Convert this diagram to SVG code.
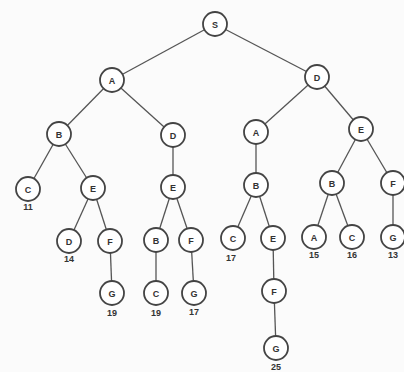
<svg xmlns="http://www.w3.org/2000/svg" width="404" height="372" viewBox="0 0 404 372">
<style>
.n circle{fill:#fff;stroke:#444;stroke-width:1.8}
.n text{font-family:"Liberation Sans",Arial,sans-serif;font-size:9px;font-weight:bold;fill:#333;text-anchor:middle}
.c line{stroke:#555;stroke-width:1.3}
.v{font-family:"Liberation Sans",Arial,sans-serif;font-size:9px;font-weight:bold;fill:#333;text-anchor:middle}
</style>
<rect width="404" height="372" fill="#fbfbfb"/>
<g id="connectors" class="c">
<line x1="215" y1="24" x2="112" y2="80"/>
<line x1="215" y1="24" x2="317" y2="77"/>
<line x1="112" y1="80" x2="59" y2="134"/>
<line x1="112" y1="80" x2="173" y2="135"/>
<line x1="317" y1="77" x2="256" y2="132"/>
<line x1="317" y1="77" x2="361" y2="129"/>
<line x1="59" y1="134" x2="28" y2="189"/>
<line x1="59" y1="134" x2="93" y2="188"/>
<line x1="173" y1="135" x2="173" y2="187"/>
<line x1="256" y1="132" x2="256" y2="185"/>
<line x1="361" y1="129" x2="332" y2="183"/>
<line x1="361" y1="129" x2="393" y2="183"/>
<line x1="93" y1="188" x2="69" y2="241"/>
<line x1="93" y1="188" x2="110" y2="241"/>
<line x1="173" y1="187" x2="156" y2="240"/>
<line x1="173" y1="187" x2="191" y2="240"/>
<line x1="256" y1="185" x2="233" y2="238"/>
<line x1="256" y1="185" x2="273" y2="238"/>
<line x1="332" y1="183" x2="314" y2="237"/>
<line x1="332" y1="183" x2="352" y2="237"/>
<line x1="393" y1="183" x2="393" y2="237"/>
<line x1="110" y1="241" x2="112" y2="293"/>
<line x1="156" y1="240" x2="156" y2="293"/>
<line x1="191" y1="240" x2="194" y2="293"/>
<line x1="273" y1="238" x2="274" y2="291"/>
<line x1="274" y1="291" x2="276" y2="348"/>
</g>
<g id="n-S" class="n"><circle cx="215" cy="24" r="12"/><text x="215" y="27.5">S</text></g>
<g id="n-A1" class="n"><circle cx="112" cy="80" r="12"/><text x="112" y="83.5">A</text></g>
<g id="n-D1" class="n"><circle cx="317" cy="77" r="12"/><text x="317" y="80.5">D</text></g>
<g id="n-B1" class="n"><circle cx="59" cy="134" r="12"/><text x="59" y="137.5">B</text></g>
<g id="n-D2" class="n"><circle cx="173" cy="135" r="12"/><text x="173" y="138.5">D</text></g>
<g id="n-A2" class="n"><circle cx="256" cy="132" r="12"/><text x="256" y="135.5">A</text></g>
<g id="n-E1" class="n"><circle cx="361" cy="129" r="12"/><text x="361" y="132.5">E</text></g>
<g id="n-C1" class="n"><circle cx="28" cy="189" r="12"/><text x="28" y="192.5">C</text></g>
<g id="n-E2" class="n"><circle cx="93" cy="188" r="12"/><text x="93" y="191.5">E</text></g>
<g id="n-E3" class="n"><circle cx="173" cy="187" r="12"/><text x="173" y="190.5">E</text></g>
<g id="n-B2" class="n"><circle cx="256" cy="185" r="12"/><text x="256" y="188.5">B</text></g>
<g id="n-B3" class="n"><circle cx="332" cy="183" r="12"/><text x="332" y="186.5">B</text></g>
<g id="n-F1" class="n"><circle cx="393" cy="183" r="12"/><text x="393" y="186.5">F</text></g>
<g id="n-D3" class="n"><circle cx="69" cy="241" r="12"/><text x="69" y="244.5">D</text></g>
<g id="n-F2" class="n"><circle cx="110" cy="241" r="12"/><text x="110" y="244.5">F</text></g>
<g id="n-B4" class="n"><circle cx="156" cy="240" r="12"/><text x="156" y="243.5">B</text></g>
<g id="n-F3" class="n"><circle cx="191" cy="240" r="12"/><text x="191" y="243.5">F</text></g>
<g id="n-C2" class="n"><circle cx="233" cy="238" r="12"/><text x="233" y="241.5">C</text></g>
<g id="n-E4" class="n"><circle cx="273" cy="238" r="12"/><text x="273" y="241.5">E</text></g>
<g id="n-A3" class="n"><circle cx="314" cy="237" r="12"/><text x="314" y="240.5">A</text></g>
<g id="n-C3" class="n"><circle cx="352" cy="237" r="12"/><text x="352" y="240.5">C</text></g>
<g id="n-G1" class="n"><circle cx="393" cy="237" r="12"/><text x="393" y="240.5">G</text></g>
<g id="n-G2" class="n"><circle cx="112" cy="293" r="12"/><text x="112" y="296.5">G</text></g>
<g id="n-C4" class="n"><circle cx="156" cy="293" r="12"/><text x="156" y="296.5">C</text></g>
<g id="n-G3" class="n"><circle cx="194" cy="293" r="12"/><text x="194" y="296.5">G</text></g>
<g id="n-F4" class="n"><circle cx="274" cy="291" r="12"/><text x="274" y="294.5">F</text></g>
<g id="n-G4" class="n"><circle cx="276" cy="348" r="12"/><text x="276" y="351.5">G</text></g>
<g id="values">
<text class="v" x="28" y="210">11</text>
<text class="v" x="69" y="262">14</text>
<text class="v" x="231" y="261">17</text>
<text class="v" x="314" y="258">15</text>
<text class="v" x="352" y="258">16</text>
<text class="v" x="393" y="258">13</text>
<text class="v" x="112" y="316">19</text>
<text class="v" x="156" y="316">19</text>
<text class="v" x="194" y="315">17</text>
<text class="v" x="276" y="370">25</text>
</g>
</svg>
